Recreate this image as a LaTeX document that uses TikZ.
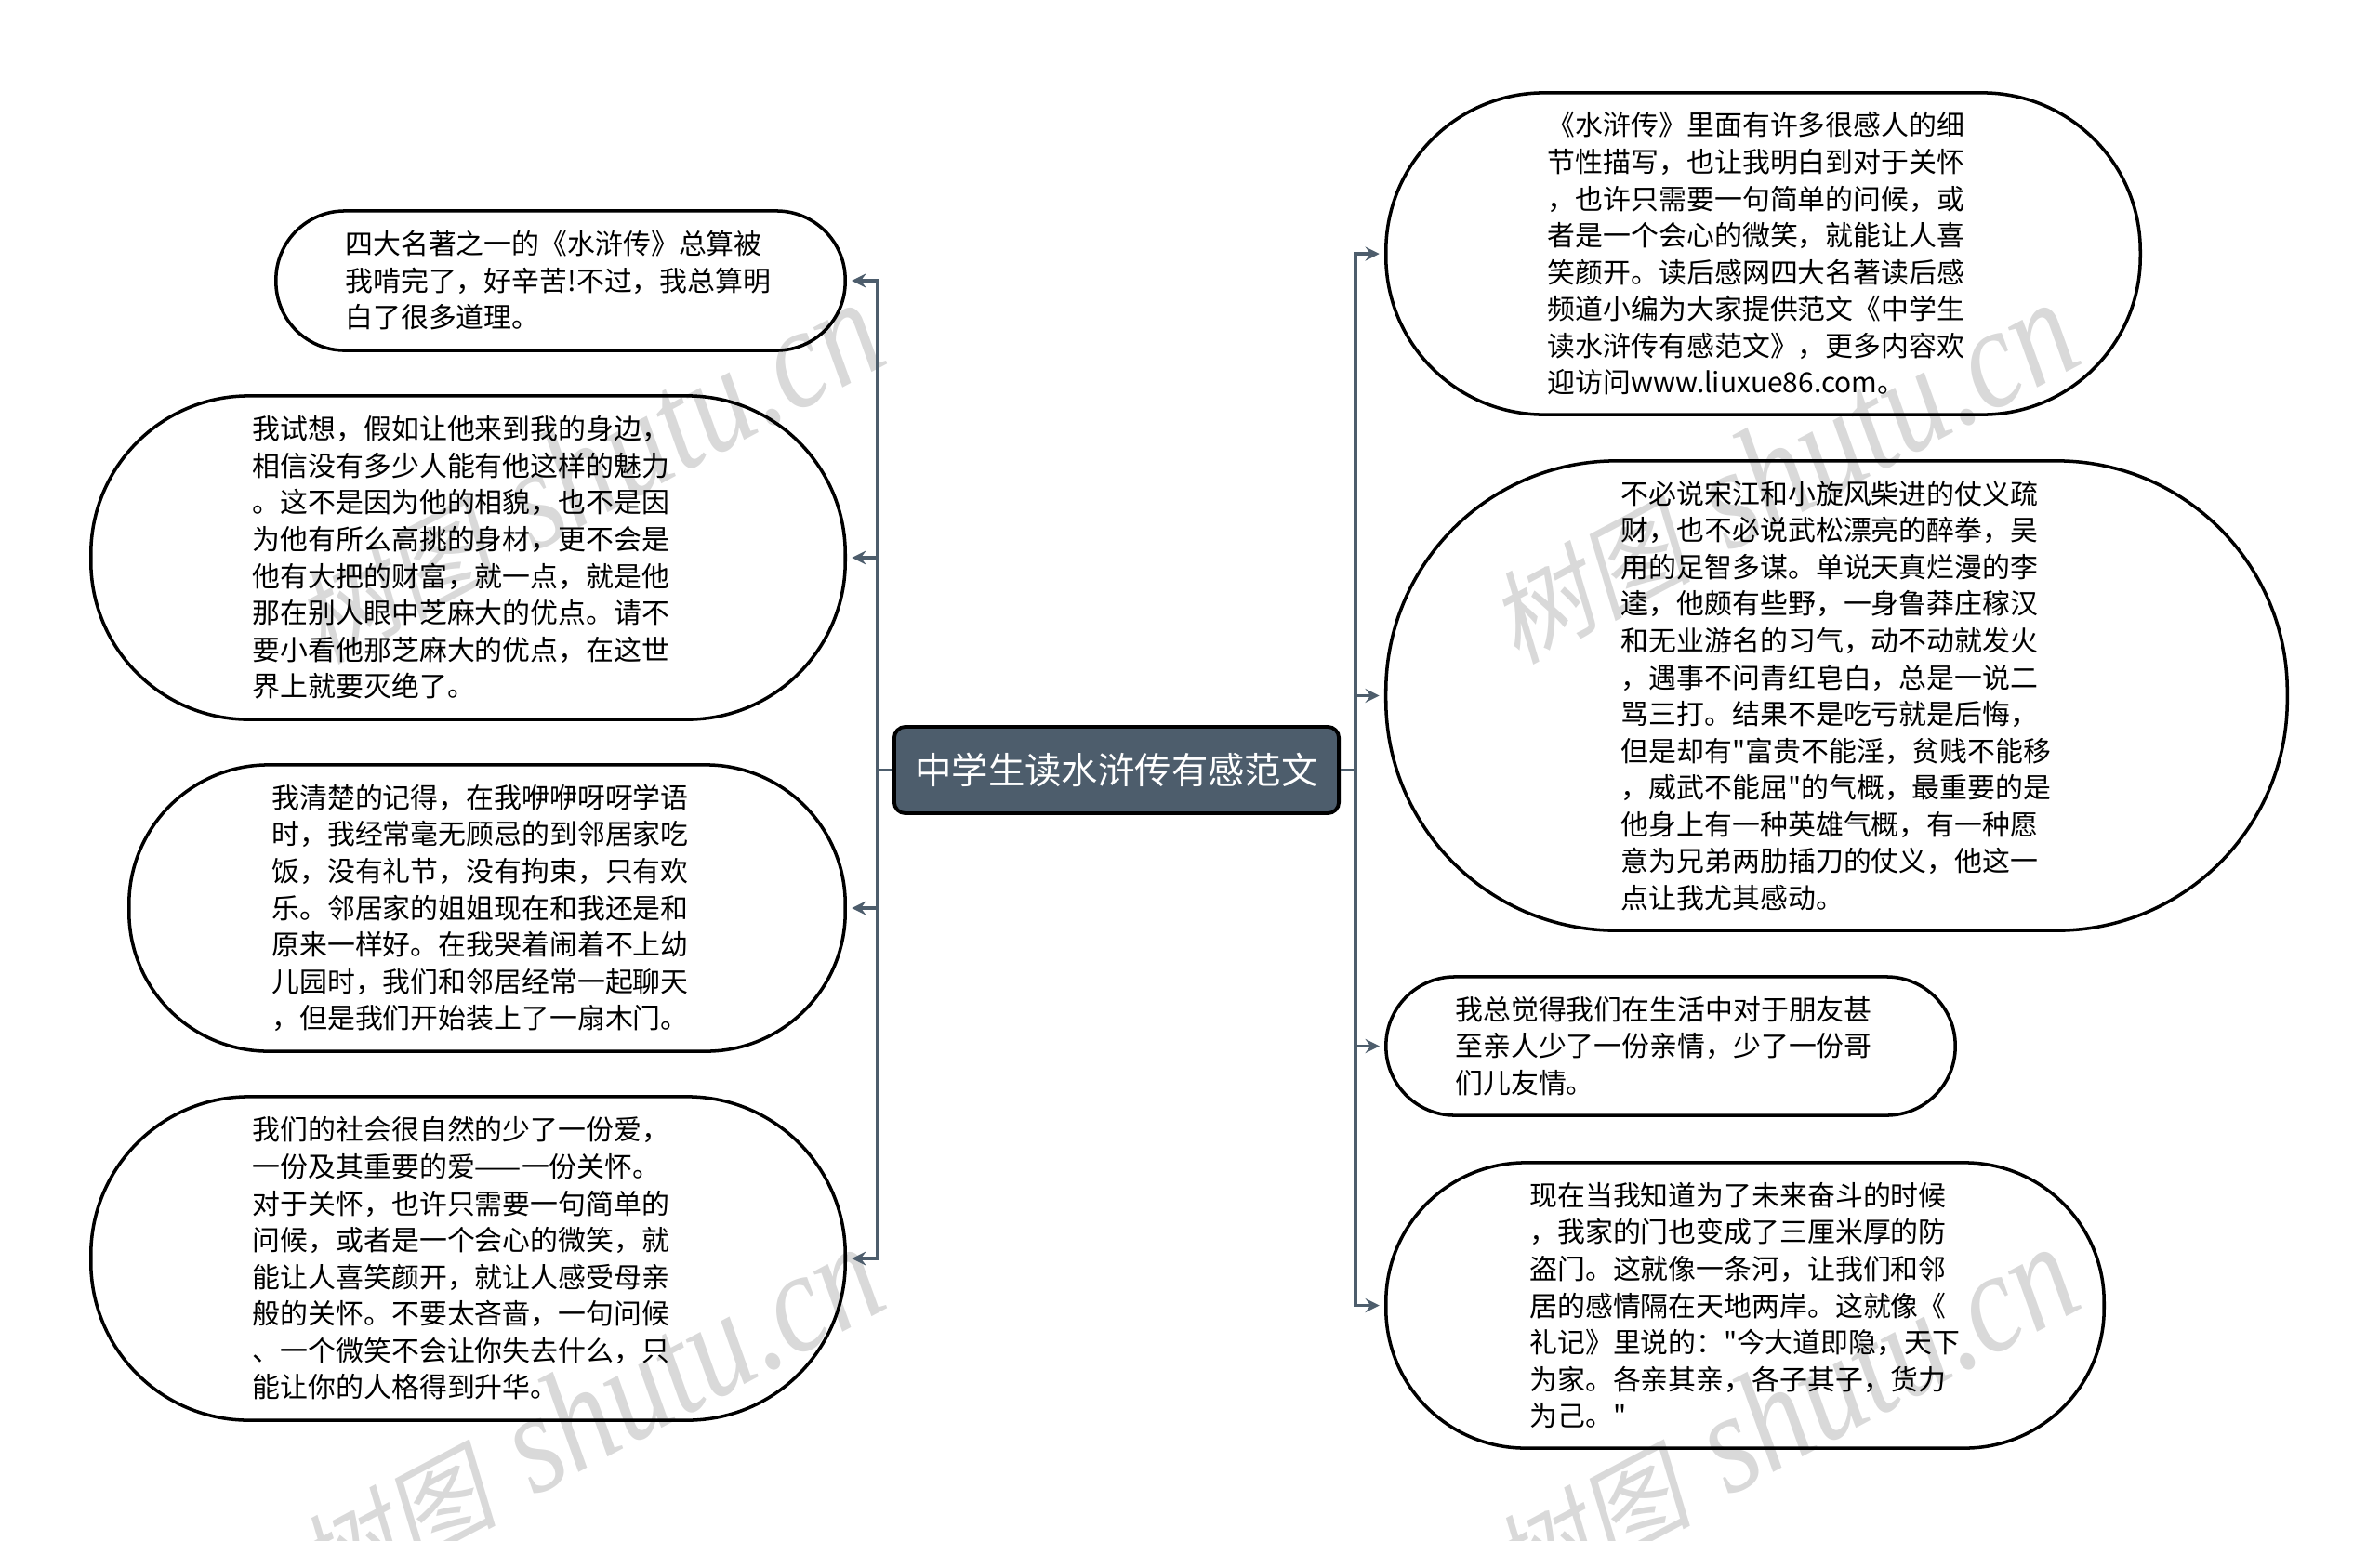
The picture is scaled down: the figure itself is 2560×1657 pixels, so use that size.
\documentclass[tikz,border=0pt]{standalone}
\usepackage{fontspec}
\setmainfont[Ligatures=TeXOff]{Noto Sans CJK SC}
\newfontfamily\markcjk[FakeSlant=0.2]{Noto Sans CJK SC}
\newfontfamily\marklatin{Liberation Serif}
\usepackage{xcolor}
\usepackage{tikz}
\usetikzlibrary{
    calc,
    arrows
}
\definecolor{slate}{HTML}{4D5D6C}
\newcommand{\marktext}{{\fontsize{31}{40}\markcjk\selectfont 树图}\hspace{0.4cm}\scalebox{1}[1.2]{\fontsize{37}{40}\marklatin\itshape\selectfont shutu.cn}}
\tikzset{
    bubble/.style={draw=black, line width=1pt, inner sep=0pt, text width=4.63cm, align=left,
        font=\fontsize{8.5}{11.25}\selectfont},
    rootbox/.style={draw=black, line width=1.1pt, fill=slate, text=white, rounded corners=1.2mm,
        inner sep=0pt, font=\fontsize{11.2}{14}\selectfont},
    link/.style={draw=slate, line width=0.9pt, >=stealth},
    watermark/.style={text=black!15, rotate=28, inner sep=0pt}
}
\begin{document}
\begin{tikzpicture}[x=0.01cm, y=-0.01cm]
        \useasboundingbox (0,0) rectangle (2560,1657);
        \begin{scope}
            \clip (0,0) rectangle (2560,1657);
            \node[watermark] (mark a) at (630,508) {\marktext};
            \node[watermark] (mark b) at (630,1524) {\marktext};
            \node[watermark] (mark c) at (1915,508) {\marktext};
            \node[watermark] (mark d) at (1915,1524) {\marktext};
        \end{scope}

        \node[rootbox, minimum width=4.78cm, minimum height=0.93cm] (root) at (1201,828.5) {中学生读水浒传有感范文};

        \node[bubble, minimum width=6.12cm, minimum height=1.50cm, rounded corners=0.74cm] (left one) at (603,302) {%
            四大名著之一的《水浒传》总算被\\
            我啃完了，好辛苦!不过，我总算明\\
            白了很多道理。};
        \node[bubble, minimum width=8.11cm, minimum height=3.48cm, rounded corners=1.7cm] (left two) at (503.5,600) {%
            我试想，假如让他来到我的身边，\\
            相信没有多少人能有他这样的魅力\\
            。这不是因为他的相貌，也不是因\\
            为他有所么高挑的身材，更不会是\\
            他有大把的财富，就一点，就是他\\
            那在别人眼中芝麻大的优点。请不\\
            要小看他那芝麻大的优点，在这世\\
            界上就要灭绝了。};
        \node[bubble, minimum width=7.70cm, minimum height=3.08cm, rounded corners=1.5cm] (left three) at (524,977) {%
            我清楚的记得，在我咿咿呀呀学语\\
            时，我经常毫无顾忌的到邻居家吃\\
            饭，没有礼节，没有拘束，只有欢\\
            乐。邻居家的姐姐现在和我还是和\\
            原来一样好。在我哭着闹着不上幼\\
            儿园时，我们和邻居经常一起聊天\\
            ，但是我们开始装上了一扇木门。};
        \node[bubble, minimum width=8.11cm, minimum height=3.48cm, rounded corners=1.7cm] (left four) at (503.5,1354) {%
            我们的社会很自然的少了一份爱，\\
            一份及其重要的爱——一份关怀。\\
            对于关怀，也许只需要一句简单的\\
            问候，或者是一个会心的微笑，就\\
            能让人喜笑颜开，就让人感受母亲\\
            般的关怀。不要太吝啬，一句问候\\
            、一个微笑不会让你失去什么，只\\
            能让你的人格得到升华。};

        \node[bubble, minimum width=8.11cm, minimum height=3.46cm, rounded corners=1.7cm] (right one) at (1896.5,273) {%
            《水浒传》里面有许多很感人的细\\
            节性描写，也让我明白到对于关怀\\
            ，也许只需要一句简单的问候，或\\
            者是一个会心的微笑，就能让人喜\\
            笑颜开。读后感网四大名著读后感\\
            频道小编为大家提供范文《中学生\\
            读水浒传有感范文》，更多内容欢\\
            迎访问www.liuxue86.com。};
        \node[bubble, minimum width=9.69cm, minimum height=5.05cm, rounded corners=2.48cm] (right two) at (1975.5,748.5) {%
            不必说宋江和小旋风柴进的仗义疏\\
            财，也不必说武松漂亮的醉拳，吴\\
            用的足智多谋。单说天真烂漫的李\\
            逵，他颇有些野，一身鲁莽庄稼汉\\
            和无业游名的习气，动不动就发火\\
            ，遇事不问青红皂白，总是一说二\\
            骂三打。结果不是吃亏就是后悔，\\
            但是却有"富贵不能淫，贫贱不能移\\
            ，威武不能屈"的气概，最重要的是\\
            他身上有一种英雄气概，有一种愿\\
            意为兄弟两肋插刀的仗义，他这一\\
            点让我尤其感动。};
        \node[bubble, minimum width=6.12cm, minimum height=1.49cm, rounded corners=0.74cm] (right three) at (1797,1125.5) {%
            我总觉得我们在生活中对于朋友甚\\
            至亲人少了一份亲情，少了一份哥\\
            们儿友情。};
        \node[bubble, minimum width=7.72cm, minimum height=3.07cm, rounded corners=1.5cm] (right four) at (1877,1404.5) {%
            现在当我知道为了未来奋斗的时候\\
            ，我家的门也变成了三厘米厚的防\\
            盗门。这就像一条河，让我们和邻\\
            居的感情隔在天地两岸。这就像《\\
            礼记》里说的："今大道即隐，天下\\
            为家。各亲其亲，各子其子，货力\\
            为己。"};

        \coordinate (left trunk) at (944,828.5);
        \coordinate (right trunk) at (1458,828.5);
        \foreach \leaf in {left one, left two, left three, left four} {
            \draw[link, ->, shorten >=1.5pt] (root.west) -- (left trunk) |- (\leaf.east);
        }
        \foreach \leaf in {right one, right two, right three, right four} {
            \draw[link, ->, shorten >=1.5pt] (root.east) -- (right trunk) |- (\leaf.west);
        }
    \end{tikzpicture}
\end{document}
